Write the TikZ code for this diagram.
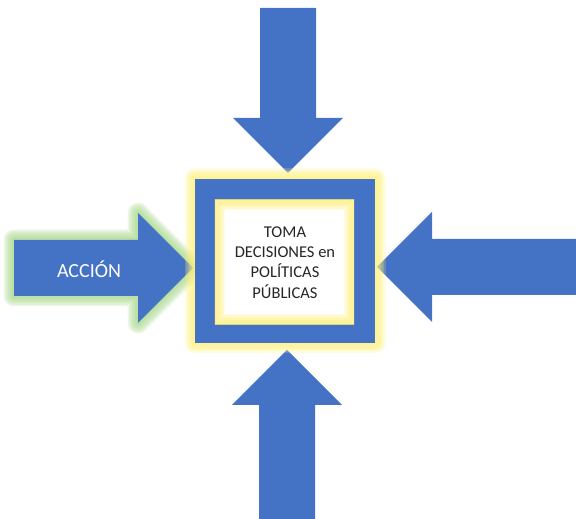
\documentclass[tikz,border=0pt]{standalone}
\usepackage{fontspec}
\setmainfont{Carlito}
\usepackage{tikz}
\usetikzlibrary{shapes,arrows.meta}
\definecolor{blockblue}{HTML}{4472C4}
\definecolor{glowyellow}{HTML}{FFF07A}
\definecolor{glowgreen}{HTML}{A9D88E}
\newcommand{\dpblockarrow}[3] {\fill [blockblue, shift={(#1)}, rotate=#2] (0,0) -- (-55,55) -- (-55,28) -- (-#3,28) -- (-#3,-28) -- (-55,-28) -- (-55,-55) -- cycle;}
\newcommand{\dpglow}[2] {\foreach \w in {3,6,...,21} {\draw [#1, opacity=0.2, line width=\w pt, line join=round] #2;}}

\begin{document}
\begin{tikzpicture}[x=1pt, y=1pt]
\useasboundingbox (0,0) rectangle (576,519);

\coordinate (tipaccion) at (193,251);
\coordinate (tipright) at (377,252);
\coordinate (tiptop) at (288,346);
\coordinate (tipbottom) at (287,169);

\dpglow {glowgreen} {(tipaccion) -- ++(-55,55) -- ++(0,-27) -- ++(-124,0) -- ++(0,-56) -- ++(124,0) -- ++(0,-27) -- cycle};
\dpblockarrow {tipaccion}{0}{179};
\dpblockarrow {tipright}{180}{202};
\dpblockarrow {tiptop}{-90}{165};
\dpblockarrow {tipbottom}{90}{169};

\node at (89,250) (accion) [text=white, font=\fontsize{20}{22}\selectfont] {ACCIÓN};

\dpglow {glowyellow} {(195,176) rectangle (375,340)};
\node at (285,258) (marco) [fill=blockblue, minimum width=180pt, minimum height=164pt] {};
\node at (284.5,257) (centro) [fill=white, minimum width=139pt, minimum height=124pt] {};
\begin{scope}
\clip (centro.south west) rectangle (centro.north east);
\dpglow {glowyellow} {(centro.south west) rectangle (centro.north east)};
\end{scope}
\node at (285,256.5) (texto) [align=center, text=black!85, font=\fontsize{16.5}{20.3}\selectfont] {TOMA\\DECISIONES en\\POLÍTICAS\\PÚBLICAS};

%\node at (288,500) {};
\end{tikzpicture}
\end{document}
